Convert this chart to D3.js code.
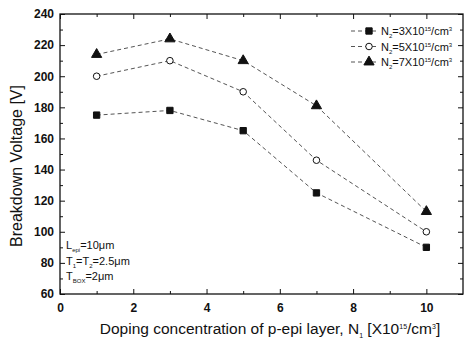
<!DOCTYPE html>
<meta charset="utf-8">
<script src="https://cdn.jsdelivr.net/npm/d3@7"></script>
<style>
body{margin:0;background:#fff;}
svg text{font-family:"Liberation Sans",Arial,sans-serif;fill:#111;}
.tick text{font-size:12px;font-weight:bold;font-family:"Liberation Sans",Arial,sans-serif;}
.axis path,.axis line{stroke:#111;}
.series{fill:none;stroke:#555;stroke-width:1;stroke-dasharray:4,3;}
</style>
<div id="vis"></div>
<script>

// Data
const dopingN1 = [1, 3, 5, 7, 10];
const bvN2_3 = [175, 178, 165, 125, 90];
const bvN2_5 = [200, 210, 190, 146, 100];
const bvN2_7 = [214, 224, 210, 181, 113];
const seriesNames = ["3", "5", "7"];
const xTicks = [0, 2, 4, 6, 8, 10];
const yTicks = [60, 80, 100, 120, 140, 160, 180, 200, 220, 240];

const w = 465, h = 343;
const margin = {top: 14, right: 2, bottom: 49, left: 60};
const width = w - margin.left - margin.right,
    height = h - margin.top - margin.bottom;

let svg = d3.select("#vis").append("svg")
    .attr("width", w).attr("height", h)
    .attr("font-family", "Liberation Sans, Arial, sans-serif");
let g = svg.append("g")
    .attr("transform", "translate(" + margin.left + "," + margin.top + ")");

let x = d3.scaleLinear().domain([0, 11]).range([0, width]);
let y = d3.scaleLinear().domain([60, 240]).range([height, 0]);

// frame
g.append("rect").attr("width", width).attr("height", height)
  .attr("fill", "none").attr("stroke", "#111").attr("stroke-width", 1.3);

// ticks (inside, all four sides)
const xMinor = d3.range(1, 11, 2), yMinor = d3.range(70, 240, 20);
function ax(axis, tr) {
  g.append("g").attr("class", "axis").attr("transform", tr).call(axis)
    .attr("font-family", null).attr("font-size", null)
    .call(a => a.select(".domain").remove());
}
const bottom = "translate(0," + height + ")", right = "translate(" + width + ",0)";
ax(d3.axisBottom(x).tickValues(xTicks).tickSize(-5).tickPadding(9), bottom);
ax(d3.axisBottom(x).tickValues(xMinor).tickSize(-3).tickFormat(""), bottom);
ax(d3.axisTop(x).tickValues(xTicks).tickSize(-5).tickFormat(""), null);
ax(d3.axisTop(x).tickValues(xMinor).tickSize(-3).tickFormat(""), null);
ax(d3.axisLeft(y).tickValues(yTicks).tickSize(-5).tickPadding(6), null);
ax(d3.axisLeft(y).tickValues(yMinor).tickSize(-3).tickFormat(""), null);
ax(d3.axisRight(y).tickValues(yTicks).tickSize(-5).tickFormat(""), right);
ax(d3.axisRight(y).tickValues(yMinor).tickSize(-3).tickFormat(""), right);

// series
const allSeries = [bvN2_3, bvN2_5, bvN2_7];
const symbols = [d3.symbolSquare, d3.symbolCircle, d3.symbolTriangle];
const sizes = [40, 34, 45];
const fills = ["#111", "#fff", "#111"];
const line = d3.line().x((d, i) => x(dopingN1[i])).y(d => y(d));

allSeries.forEach((s, k) => {
  g.append("path").attr("class", "series").attr("d", line(s));
  g.selectAll(".pt" + k).data(s).enter().append("path")
    .attr("transform", (d, i) => "translate(" + x(dopingN1[i]) + "," + y(d) + ")")
    .attr("d", d3.symbol().type(symbols[k]).size(sizes[k]))
    .attr("fill", fills[k]).attr("stroke", "#111").attr("stroke-width", 1);
});

// legend
const lg = g.append("g").attr("transform", "translate(309,17)");
seriesNames.forEach((n, k) => {
  const row = lg.append("g").attr("transform", "translate(0," + k * 15.5 + ")");
  row.append("line").attr("class", "series").attr("x1", -18).attr("x2", 7);
  row.append("path")
    .attr("d", d3.symbol().type(symbols[k]).size(sizes[k]))
    .attr("fill", fills[k]).attr("stroke", "#111");
  const t = row.append("text").attr("x", 12).attr("y", 4).style("font-size", "11px");
  t.append("tspan").text("N");
  t.append("tspan").text("2").attr("dy", 3).style("font-size", "6px");
  t.append("tspan").text("=" + n + "X10").attr("dy", -3);
  t.append("tspan").text("15").attr("dy", -4).style("font-size", "6px");
  t.append("tspan").text("/cm").attr("dy", 4);
  t.append("tspan").text("3").attr("dy", -4).style("font-size", "6px");
});

// annotations
const notes = [["L", "epi", "=10\u03bcm"], ["T", "1", "=T", "2", "=2.5\u03bcm"], ["T", "BOX", "=2\u03bcm"]];
notes.forEach((n, k) => {
  const t = g.append("text").attr("x", 6).attr("y", 235 + k * 15.5).style("font-size", "11px");
  n.forEach((p, i) => {
    const sp = t.append("tspan").text(p);
    if (i % 2 == 1) sp.attr("dy", 3).style("font-size", "6px");
    else if (i > 0) sp.attr("dy", -3);
  });
});

// axis titles
svg.append("text").attr("transform", "translate(22,166) rotate(-90)")
  .attr("text-anchor", "middle").style("font-size", "16px").text("Breakdown Voltage [V]");
const xt = svg.append("text").attr("x", 270).attr("y", 334)
  .attr("text-anchor", "middle").style("font-size", "15.5px");
xt.append("tspan").text("Doping concentration of p-epi layer, N");
xt.append("tspan").text("1").attr("dy", 4).style("font-size", "7px");
xt.append("tspan").text(" [X10").attr("dy", -4);
xt.append("tspan").text("15").attr("dy", -5).style("font-size", "7px");
xt.append("tspan").text("/cm").attr("dy", 5);
xt.append("tspan").text("3").attr("dy", -5).style("font-size", "7px");
xt.append("tspan").text("]").attr("dy", 5);

</script>
